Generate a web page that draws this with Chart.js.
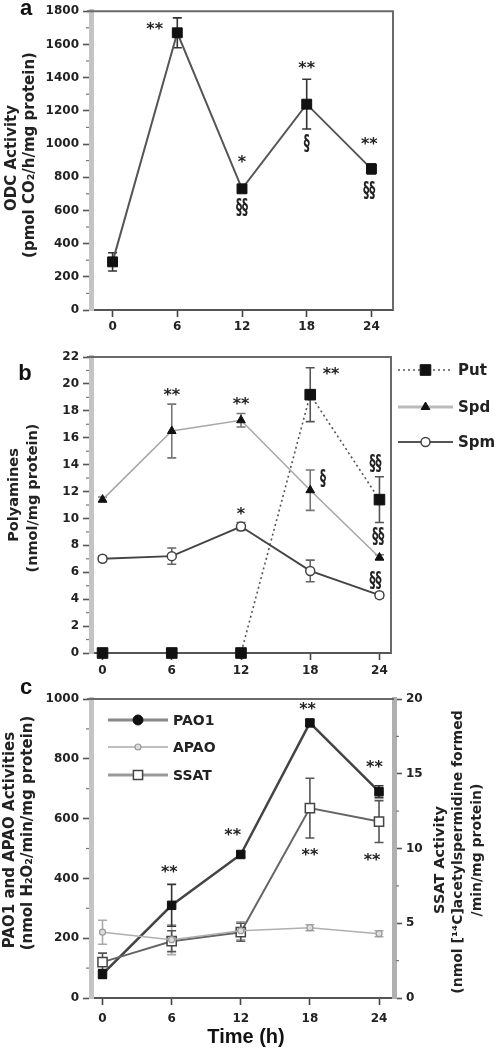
<!DOCTYPE html>
<html><head><meta charset="utf-8">
<script src="https://cdn.jsdelivr.net/npm/chart.js@4.4.1/dist/chart.umd.min.js"></script>
<style>
html,body{margin:0;padding:0;background:#fff;width:500px;height:1050px;overflow:hidden}
.w{position:absolute;left:0;width:500px}
canvas{display:block}
</style></head><body>
<div class="w" style="top:0;height:340px"><canvas id="ca" width="500" height="340"></canvas></div>
<div class="w" style="top:340px;height:340px"><canvas id="cb" width="500" height="340"></canvas></div>
<div class="w" style="top:680px;height:370px"><canvas id="cc" width="500" height="370"></canvas></div>
<script>
// ---------- data ----------
const hours = [0, 6, 12, 18, 24];
const xTickLabels = ['0', '6', '12', '18', '24'];

// panel a: ODC activity
const odc    = [290, 1670, 730, 1240, 850];
const odcErr = [55, 90, 20, 150, 30];
const odcTicks = [0, 200, 400, 600, 800, 1000, 1200, 1400, 1600, 1800];
const sigA = [
  {x: 3.9, y: 1705, t: '**'}, {x: 12, y: 906, t: '*'}, {x: 12, y: 608, t: '§§'},
  {x: 18, y: 1472, t: '**'}, {x: 18, y: 995, t: '§'},
  {x: 23.8, y: 1013, t: '**'}, {x: 23.8, y: 715, t: '§§'}
];

// panel b: polyamines
const put    = [0, 0, 0, 19.2, 11.4];
const putErr = [0, 0, 0, 2.0, 1.7];
const spd    = [11.4, 16.5, 17.3, 12.1, 7.1];
const spdErr = [0.2, 2.0, 0.5, 1.5, 0.2];
const spm    = [7.0, 7.2, 9.4, 6.1, 4.3];
const spmErr = [0.2, 0.6, 0.3, 0.8, 0.2];
const polyTicks = [0, 2, 4, 6, 8, 10, 12, 14, 16, 18, 20, 22];
const sigB = [
  {x: 6, y: 19.3, t: '**'}, {x: 12, y: 18.7, t: '**'}, {x: 12, y: 10.5, t: '*'},
  {x: 19.8, y: 20.9, t: '**'}, {x: 19.1, y: 12.9, t: '§'},
  {x: 23.65, y: 14.0, t: '§§'}, {x: 23.9, y: 8.55, t: '§§'}, {x: 23.65, y: 5.3, t: '§§'}
];

// panel c: PAO1 / APAO / SSAT
const pao1    = [80, 310, 480, 920, 690];
const pao1Err = [15, 70, 10, 10, 20];
const apao    = [220, 195, 225, 235, 215];
const apaoErr = [40, 50, 30, 10, 10];
const ssat    = [2.4, 3.8, 4.4, 12.7, 11.8];
const ssatErr = [0.6, 0.7, 0.6, 2.0, 1.4];
const leftTicksC  = [0, 200, 400, 600, 800, 1000];
const rightTicksC = [0, 5, 10, 15, 20];
const sigC = [
  {x: 5.8, y: 428, t: '**'}, {x: 11.3, y: 552, t: '**'}, {x: 17.8, y: 973, t: '**'},
  {x: 23.6, y: 779, t: '**'}, {x: 18, y: 485, t: '**'}, {x: 23.4, y: 468, t: '**'}
];

// ---------- helpers ----------
const TICKFONT = {family: 'DejaVu Sans', weight: 'bold', size: 12};
const BOLD = 'bold 15px "DejaVu Sans"';
const pts = (vals) => hours.map((h, i) => ({x: h, y: vals[i]}));

function vText(ctx, text, x, y, font) {
  ctx.save();
  ctx.translate(x, y); ctx.rotate(-Math.PI / 2);
  ctx.font = font; ctx.fillStyle = '#222';
  ctx.textAlign = 'center'; ctx.textBaseline = 'middle';
  ctx.fillText(text, 0, 0);
  ctx.restore();
}
function marker(ctx, style, x, y, r, fill, stroke, lw) {
  ctx.save();
  ctx.fillStyle = fill; ctx.strokeStyle = stroke; ctx.lineWidth = lw;
  Chart.helpers.drawPoint(ctx, {pointStyle: style, radius: r, borderWidth: lw, rotation: 0}, x, y);
  ctx.restore();
}
function legendItem(ctx, x0, x1, y, line, pt, text, font) {
  ctx.save();
  ctx.strokeStyle = line.color; ctx.lineWidth = line.width;
  ctx.setLineDash(line.dash || []);
  ctx.beginPath(); ctx.moveTo(x0, y); ctx.lineTo(x1, y); ctx.stroke();
  ctx.restore();
  marker(ctx, pt.style, (x0 + x1) / 2, y, pt.r, pt.fill, pt.stroke, pt.lw);
  ctx.save();
  ctx.font = font; ctx.fillStyle = '#222'; ctx.textAlign = 'left'; ctx.textBaseline = 'middle';
  ctx.fillText(text, x1 + 5, y + 1);
  ctx.restore();
}

// legends drawn per canvas (kept outside chart options so they are not treated as scriptable)
const legendDrawers = {
  cb: (ctx) => {
    const f = 'bold 15px "DejaVu Sans"';
    legendItem(ctx, 398, 453, 30, {color: '#555', width: 1.6, dash: [2, 3]},
      {style: 'rect', r: 7.5, fill: '#111', stroke: '#111', lw: 1}, 'Put', f);
    legendItem(ctx, 398, 453, 67, {color: '#bbb', width: 3},
      {style: 'triangle', r: 5, fill: '#111', stroke: '#111', lw: 1}, 'Spd', f);
    legendItem(ctx, 398, 453, 102, {color: '#555', width: 2},
      {style: 'circle', r: 4.5, fill: '#fff', stroke: '#444', lw: 1.5}, 'Spm', f);
  },
  cc: (ctx) => {
    const f = 'bold 14px "DejaVu Sans"';
    legendItem(ctx, 108, 168, 40, {color: '#888', width: 3},
      {style: 'circle', r: 5, fill: '#111', stroke: '#111', lw: 1}, 'PAO1', f);
    legendItem(ctx, 108, 168, 67, {color: '#aaa', width: 1.5},
      {style: 'circle', r: 3, fill: '#ddd', stroke: '#999', lw: 1.2}, 'APAO', f);
    legendItem(ctx, 108, 168, 95, {color: '#999', width: 3},
      {style: 'rect', r: 6.5, fill: '#fff', stroke: '#444', lw: 1.5}, 'SSAT', f);
  }
};

const errorBars = {
  id: 'errorBars',
  beforeDatasetsDraw(chart) {
    const ctx = chart.ctx;
    chart.data.datasets.forEach((ds) => {
      if (!ds.errors) return;
      const xs = chart.scales.x, ys = chart.scales[ds.yAxisID || 'y'];
      ctx.save();
      ctx.strokeStyle = ds.errColor || '#333'; ctx.lineWidth = 1.6;
      ds.data.forEach((p, j) => {
        const e = ds.errors[j]; if (!e) return;
        const px = xs.getPixelForValue(p.x);
        const t = ys.getPixelForValue(p.y + e), b = ys.getPixelForValue(p.y - e);
        ctx.beginPath();
        ctx.moveTo(px, t); ctx.lineTo(px, b);
        ctx.moveTo(px - 4.5, t); ctx.lineTo(px + 4.5, t);
        ctx.moveTo(px - 4.5, b); ctx.lineTo(px + 4.5, b);
        ctx.stroke();
      });
      ctx.restore();
    });
  }
};

const decor = {
  id: 'decor',
  afterDraw(chart) {
    const ctx = chart.ctx, ca = chart.chartArea, o = chart.options.plugins.decor;
    // frame (top / right)
    ctx.save();
    ctx.strokeStyle = '#6a6a6a'; ctx.lineWidth = 2;
    ctx.beginPath();
    ctx.moveTo(ca.left - 4, ca.top); ctx.lineTo(ca.right, ca.top);
    if (o.rightFrame) ctx.lineTo(ca.right, ca.bottom);
    ctx.stroke();
    ctx.restore();
    // minor ticks
    (o.minor || []).forEach(m => {
      const s = chart.scales[m.id];
      ctx.save(); ctx.strokeStyle = '#777'; ctx.lineWidth = 1.2;
      for (let v = s.min + m.step / 2; v < s.max; v += m.step) {
        const py = s.getPixelForValue(v);
        ctx.beginPath();
        if (m.side === 'left') { ctx.moveTo(ca.left - 5, py); ctx.lineTo(ca.left - 2, py); }
        else { ctx.moveTo(ca.right + 2, py); ctx.lineTo(ca.right + 5, py); }
        ctx.stroke();
      }
      ctx.restore();
    });
    // significance marks
    const xs = chart.scales.x, ys = chart.scales.y;
    (o.sig || []).forEach(a => {
      const px = xs.getPixelForValue(a.x), py = ys.getPixelForValue(a.y);
      ctx.save();
      ctx.fillStyle = '#222'; ctx.textAlign = 'center'; ctx.textBaseline = 'middle';
      ctx.translate(px, py);
      if (a.t.indexOf('§') >= 0) { ctx.scale(1, 1.7); ctx.font = 'bold 12px "DejaVu Sans"'; }
      else { ctx.font = 'bold 16px "DejaVu Sans"'; ctx.translate(0, 3); }
      ctx.fillText(a.t, 0, 0);
      ctx.restore();
    });
    // titles
    (o.titles || []).forEach(t => vText(ctx, t.text, t.x, t.y, t.font));
    if (o.panel) {
      ctx.save(); ctx.font = 'bold 22px "Liberation Sans"'; ctx.fillStyle = '#111';
      ctx.textAlign = 'center'; ctx.textBaseline = 'middle';
      ctx.fillText(o.panel.t, o.panel.x, o.panel.y); ctx.restore();
    }
    if (o.xTitle) {
      ctx.save(); ctx.font = 'bold 20px "Liberation Sans"'; ctx.fillStyle = '#111';
      ctx.textAlign = 'center'; ctx.textBaseline = 'middle';
      ctx.fillText(o.xTitle.t, o.xTitle.x, o.xTitle.y); ctx.restore();
    }
    const lg = legendDrawers[chart.canvas.id];
    if (lg) lg(ctx);
  }
};

function xScale(min, max, h, pad) {
  return {
    type: 'linear', min, max,
    afterBuildTicks: s => { s.ticks = hours.map(v => ({value: v})); },
    afterFit: s => { s.height = h; },
    ticks: {font: TICKFONT, color: '#222', padding: pad, maxRotation: 0,
            callback: (v, i) => xTickLabels[i]},
    grid: {drawOnChartArea: false, drawTicks: true, tickLength: 7, tickColor: '#444', tickWidth: 1.6},
    border: {display: true, color: '#555', width: 2}
  };
}
function yScale(min, max, tickVals, w, pos, borderColor) {
  return {
    type: 'linear', min, max, position: pos || 'left',
    afterBuildTicks: s => { s.ticks = tickVals.map(v => ({value: v})); },
    afterFit: s => { s.width = w; },
    ticks: {font: TICKFONT, color: '#222', padding: 4, callback: v => String(v)},
    grid: {drawOnChartArea: false, drawTicks: true, tickLength: 8, tickColor: '#555', tickWidth: 1.6},
    border: {display: true, color: borderColor || '#c4c4c4', width: 5}
  };
}
const baseOpts = {
  responsive: false, animation: false, devicePixelRatio: 1,
  plugins: {legend: {display: false}, tooltip: {enabled: false}}
};

// ---------- panel a ----------
new Chart(document.getElementById('ca'), {
  type: 'line',
  data: {datasets: [{
    data: pts(odc), errors: odcErr, errColor: '#333',
    borderColor: '#555', borderWidth: 2, pointStyle: 'rect', pointRadius: 7,
    pointBackgroundColor: '#111', pointBorderColor: '#111', pointBorderWidth: 1, clip: false
  }]},
  options: Object.assign({}, baseOpts, {
    layout: {padding: {left: 0, right: 107, top: 8, bottom: 0}},
    scales: {x: xScale(-2, 26, 30, 3), y: yScale(0, 1800, odcTicks, 91)},
    plugins: Object.assign({}, baseOpts.plugins, {decor: {
      rightFrame: true,
      minor: [{id: 'y', step: 200, side: 'left'}],
      sig: sigA,
      panel: {t: 'a', x: 26, y: 9},
      titles: [
        {text: 'ODC Activity', x: 12, y: 158, font: BOLD},
        {text: '(pmol CO₂/h/mg protein)', x: 30, y: 155, font: BOLD}
      ]
    }})
  }),
  plugins: [errorBars, decor]
});

// ---------- panel b ----------
new Chart(document.getElementById('cb'), {
  type: 'line',
  data: {datasets: [
    {data: pts(spd), errors: spdErr, errColor: '#777',
     borderColor: '#a8a8a8', borderWidth: 1.6, pointStyle: 'triangle', pointRadius: 5,
     pointBackgroundColor: '#111', pointBorderColor: '#111', pointBorderWidth: 1, clip: false},
    {data: pts(spm), errors: spmErr, errColor: '#666',
     borderColor: '#444', borderWidth: 2, pointStyle: 'circle', pointRadius: 4.5,
     pointBackgroundColor: '#fff', pointBorderColor: '#444', pointBorderWidth: 1.5, clip: false},
    {data: pts(put), errors: putErr, errColor: '#555',
     borderColor: '#555', borderWidth: 1.6, borderDash: [2, 3], pointStyle: 'rect', pointRadius: 7.5,
     pointBackgroundColor: '#111', pointBorderColor: '#111', pointBorderWidth: 1, clip: false}
  ]},
  options: Object.assign({}, baseOpts, {
    layout: {padding: {left: 0, right: 109, top: 17, bottom: 0}},
    scales: {x: xScale(-1, 25, 27, 4), y: yScale(0, 22, polyTicks, 91)},
    plugins: Object.assign({}, baseOpts.plugins, {decor: {
      rightFrame: true,
      minor: [{id: 'y', step: 2, side: 'left'}],
      sig: sigB,
      panel: {t: 'b', x: 25, y: 34},
      titles: [
        {text: 'Polyamines', x: 14, y: 155, font: 'bold 14.5px "DejaVu Sans"'},
        {text: '(nmol/mg protein)', x: 33, y: 158, font: 'bold 14.5px "DejaVu Sans"'}
      ]
    }})
  }),
  plugins: [errorBars, decor]
});

// ---------- panel c ----------
new Chart(document.getElementById('cc'), {
  type: 'line',
  data: {datasets: [
    {data: pts(apao), errors: apaoErr, errColor: '#aaa',
     borderColor: '#b0b0b0', borderWidth: 1.5, pointStyle: 'circle', pointRadius: 3,
     pointBackgroundColor: '#ddd', pointBorderColor: '#999', pointBorderWidth: 1.2, clip: false},
    {data: pts(ssat), errors: ssatErr, errColor: '#555', yAxisID: 'y2',
     borderColor: '#666', borderWidth: 2, pointStyle: 'rect', pointRadius: 6.5,
     pointBackgroundColor: '#fff', pointBorderColor: '#444', pointBorderWidth: 1.5, clip: false},
    {data: pts(pao1), errors: pao1Err, errColor: '#333',
     borderColor: '#444', borderWidth: 2.5, pointStyle: 'rect', pointRadius: 6,
     pointBackgroundColor: '#111', pointBorderColor: '#111', pointBorderWidth: 1, clip: false}
  ]},
  options: Object.assign({}, baseOpts, {
    layout: {padding: {left: 0, right: 0, top: 19, bottom: 0}},
    scales: {
      x: xScale(-1, 25.3, 52, 7),
      y: yScale(0, 1000, leftTicksC, 91),
      y2: yScale(0, 20, rightTicksC, 106, 'right', '#b0b0b0')
    },
    plugins: Object.assign({}, baseOpts.plugins, {decor: {
      rightFrame: false,
      minor: [{id: 'y', step: 200, side: 'left'}, {id: 'y2', step: 5, side: 'right'}],
      sig: sigC,
      panel: {t: 'c', x: 26, y: 8},
      xTitle: {t: 'Time (h)', x: 246, y: 357},
      titles: [
        {text: 'PAO1 and APAO Activities', x: 10, y: 160, font: BOLD},
        {text: '(nmol H₂O₂/min/mg protein)', x: 28, y: 153, font: BOLD},
        {text: 'SSAT Activity', x: 440, y: 180, font: 'bold 14.5px "DejaVu Sans"'},
        {text: '(nmol [¹⁴C]acetylspermidine formed', x: 458, y: 172, font: 'bold 14px "DejaVu Sans"'},
        {text: '/min/mg protein)', x: 477, y: 170, font: 'bold 14px "DejaVu Sans"'}
      ]
    }})
  }),
  plugins: [errorBars, decor]
});
</script>
</body></html>
